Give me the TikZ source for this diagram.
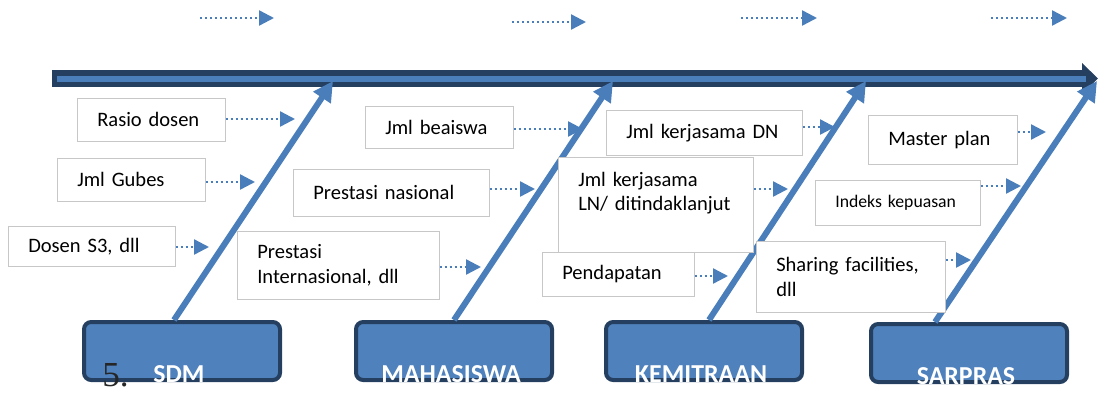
\documentclass[tikz,border=0pt]{standalone}
\usepackage{fontspec}
\setmainfont{Carlito}
\newfontfamily\numfont{Liberation Serif}
\usetikzlibrary{arrows.meta}
\definecolor{bonecol}{HTML}{4A7EBB}
\definecolor{catfill}{HTML}{4F81BD}
\definecolor{spinecol}{HTML}{243F60}
\tikzset{
	factor/.style={draw=black!22, fill=white, anchor=north west, align=left, inner xsep=5mm, inner ysep=0pt, font=\fontsize{14.6}{17.5}\selectfont},
	cause/.style={draw=spinecol, fill=catfill, line width=1mm, rounded corners=1.8mm, anchor=north west, minimum width=49mm, minimum height=14.5mm},
	causetext/.style={anchor=base, inner sep=0pt, xshift=-0.75mm, text=white, font=\fontsize{18.4}{20}\selectfont\bfseries},
	bone/.style={draw=bonecol, line width=1.5mm, -{Triangle[length=5mm, width=5mm]}},
	dotarrow/.style={draw=bonecol, line width=0.6mm, dash pattern=on 0.6mm off 0.65mm, -{Triangle[length=3.75mm, width=3.75mm]}}
}

\begin{document}
\begin{tikzpicture}[x=0.25mm, y=-0.25mm]
	\useasboundingbox (0,0) rectangle (1098,392);

	% spine
	\coordinate (tail) at (52,78.5);
	\coordinate (head) at (1098,78.5);
	\draw[spinecol, line width=4.25mm, -{Triangle[length=4mm, width=7.5mm]}] (tail) -- (head);
	\draw[bonecol, line width=1.5mm] ([xshift=1.25mm]tail) -- ([xshift=-3mm]head);

	% causes
	\node[cause, label={[causetext]south:SDM}] at (82,320) (sdm) {};
	\node[cause, label={[causetext]south:MAHASISWA}] at (354,320) (mahasiswa) {};
	\node[cause, label={[causetext]south:KEMITRAAN}] at (604,320) (kemitraan) {};
	\node[cause, label={[causetext]south:SARPRAS}] at (869,322) (sarpras) {};

	\coordinate (sdm-tip) at (333,81);
	\coordinate (mahasiswa-tip) at (613,81);
	\coordinate (kemitraan-tip) at (866,81);
	\coordinate (sarpras-tip) at (1097,81);
	\draw[bone] ([xshift=-2mm]sdm.north) -- (sdm-tip);
	\draw[bone] (mahasiswa.north) -- (mahasiswa-tip);
	\draw[bone] ([xshift=1.25mm]kemitraan.north) -- (kemitraan-tip);
	\draw[bone] ([xshift=-8.5mm]sarpras.north) -- (sarpras-tip);

	% factors
	\node[factor, text width=27mm, minimum height=10.75mm] at (77,98) (rasio) {Rasio dosen};
	\node[factor, text width=27mm, minimum height=10.75mm] at (57,158) (gubes) {Jml Gubes};
	\node[factor, text width=31.75mm, minimum height=10mm] at (8,226) (dosen) {Dosen S3, dll};

	\node[factor, text width=27mm, minimum height=10.5mm] at (365,106) (beaiswa) {Jml beaiswa};
	\node[factor, text width=39mm, minimum height=11.75mm] at (293,169) (nasional) {Prestasi nasional};
	\node[factor, text width=40.5mm, minimum height=17mm] at (237,231) (internasional) {Prestasi\\Internasional, dll};

	\node[factor, text width=39mm, minimum height=11.25mm] at (606,110) (kerjasama-dn) {Jml kerjasama DN};
	\node[factor, text width=38.75mm, text height=7.25mm, text depth=16.5mm] at (558,157) (kerjasama-ln) {Jml kerjasama\\LN/ ditindaklanjut};
	\node[factor, text width=28mm, minimum height=11mm] at (542,252) (pendapatan) {Pendapatan};

	\node[factor, text width=27.25mm, minimum height=12.25mm] at (868,115) (master) {Master plan};
	\node[factor, text width=31.25mm, minimum height=11.25mm, font=\fontsize{12.6}{15}\selectfont] at (815,180) (indeks) {Indeks kepuasan};
	\node[factor, text width=37.25mm, minimum height=17.75mm] at (756,241) (sharing) {Sharing facilities,\\dll};

	% dotted arrows
	\coordinate (rasio-to) at (295,119);
	\coordinate (gubes-to) at (255,182);
	\coordinate (dosen-to) at (209,247);
	\coordinate (beaiswa-to) at (583,129);
	\coordinate (nasional-to) at (535,189);
	\coordinate (internasional-to) at (481,267);
	\coordinate (kerjasama-dn-to) at (835,127);
	\coordinate (kerjasama-ln-to) at (788,189);
	\coordinate (pendapatan-to) at (728,276);
	\coordinate (master-to) at (1046,132);
	\coordinate (indeks-to) at (1021,186);
	\coordinate (sharing-to) at (971,260);
	\foreach \f in {rasio, gubes, dosen, beaiswa, nasional, internasional, kerjasama-dn, kerjasama-ln, pendapatan, master, indeks, sharing}
		\draw[dotarrow] (\f.east |- \f-to) -- (\f-to);

	\foreach \xa/\xb/\ya in {200/274/18, 512/586/22, 741/817/18, 991/1067/18}
		\draw[dotarrow] (\xa,\ya) -- (\xb,\ya);

	\node[anchor=base west, inner sep=0pt, text=black!85, font=\numfont\fontsize{25}{25}\selectfont] at (102,386) (num) {5.};
\end{tikzpicture}
\end{document}
